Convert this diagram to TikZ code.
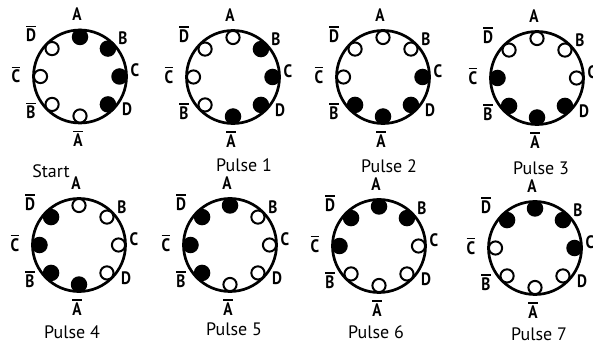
\documentclass[tikz,border=0pt]{standalone}
\usepackage{fontspec}
\setmainfont{PT Sans}
\newfontfamily\lblfont[FakeStretch=0.85]{PT Sans}
\usetikzlibrary{calc}
\newcommand{\ovbar}[1]{\setbox0\hbox{#1}\rlap{\raisebox{\dimexpr\ht0+2.2pt\relax}{\rule{\wd0}{1.4pt}}}\box0}
\tikzset{
  ring/.style={circle,draw,line width=2.7pt,minimum size=93pt,inner sep=0pt},
  doth/.style={circle,draw,line width=2pt,fill=white,minimum size=13.2pt,inner sep=0pt},
  dotf/.style={circle,fill=black,minimum size=16.5pt,inner sep=0pt},
  lbl/.style={anchor=base,inner sep=0pt,font=\lblfont\bfseries\fontsize{18}{20}\selectfont},
  captxt/.style={anchor=base,inner sep=0pt,font=\fontsize{18}{20}\selectfont}
}
\newcommand{\drawwheel}[3]{%
  \node[ring] (#1) at (#2) {};
  \foreach \ang/\st [count=\k] in {#3} {
    \node[dot\st] (#1-d\k) at ($(#1)+(\ang:39.5)$) {};
  }
  \node[lbl] (#1-A) at ($(#1)+(-3,-55.5)$) {A};
  \node[lbl] (#1-B) at ($(#1)+(43,-31.5)$) {B};
  \node[lbl] (#1-C) at ($(#1)+(55,0.5)$) {C};
  \node[lbl] (#1-D) at ($(#1)+(47,39.5)$) {D};
  \node[lbl] (#1-nA) at ($(#1)+(-2,70.5)$) {\ovbar{A}};
  \node[lbl] (#1-nB) at ($(#1)+(-49,42.5)$) {\ovbar{B}};
  \node[lbl] (#1-nC) at ($(#1)+(-64,6.5)$) {\ovbar{C}};
  \node[lbl] (#1-nD) at ($(#1)+(-49,-34.5)$) {\ovbar{D}};
}
\begin{document}
\begin{tikzpicture}[x=1pt,y=-1pt]
\useasboundingbox (0,0) rectangle (593,352);
\drawwheel{w0}{80,76.5}{-90/f,-45/f,0/f,45/f,90/h,135/h,180/h,225/h}
\drawwheel{w1}{233,77}{-90/h,-45/f,0/f,45/f,90/f,135/h,180/h,225/h}
\drawwheel{w2}{383,77}{-90/h,-45/h,0/f,45/f,90/f,135/f,180/h,225/h}
\drawwheel{w3}{537,78}{-90/h,-45/h,0/h,45/f,90/f,135/f,180/f,225/h}
\drawwheel{w4}{79,245}{-90/h,-45/h,0/h,45/h,90/f,135/f,180/f,225/f}
\drawwheel{w5}{230,245}{-90/f,-45/h,0/h,45/h,90/h,135/f,180/f,225/f}
\drawwheel{w6}{379,246}{-90/f,-45/f,0/h,45/h,90/h,135/h,180/f,225/f}
\drawwheel{w7}{535,248}{-90/f,-45/f,0/f,45/h,90/h,135/h,180/h,225/f}
\node[captxt] (c0) at (51,178) {Start};
\node[captxt] (c1) at (244,172) {Pulse 1};
\node[captxt] (c2) at (389,173) {Pulse 2};
\node[captxt] (c3) at (541,175) {Pulse 3};
\node[captxt] (c4) at (72,338) {Pulse 4};
\node[captxt] (c5) at (234,335) {Pulse 5};
\node[captxt] (c6) at (376,338) {Pulse 6};
\node[captxt] (c7) at (539,340) {Pulse 7};
\end{tikzpicture}
\end{document}
